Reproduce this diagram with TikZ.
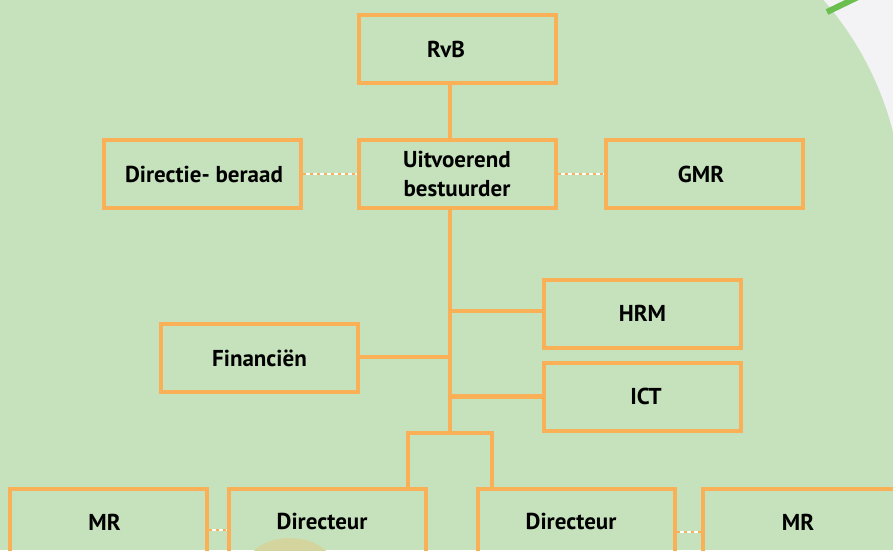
\documentclass[tikz,border=0pt]{standalone}
\usepackage{fontspec}
\setmainfont{PT Sans}
\definecolor{bggreen}{HTML}{C6E2BC}
\definecolor{bggray}{HTML}{F3F3F6}
\definecolor{boxor}{HTML}{F9B057}
\definecolor{strokegreen}{HTML}{6BBF4E}
\definecolor{blobtan}{HTML}{D3D49E}
\begin{document}
\begin{tikzpicture}[x=1pt,y=-1pt,
  box/.style={draw=boxor, line width=4pt, minimum width=197pt, minimum height=68pt,
    inner sep=0pt, align=center, text=black,
    font=\bfseries\fontsize{23}{29}\selectfont},
  link/.style={draw=boxor, line width=4.8pt},
  dotlink/.style={draw=white, line width=2.5pt,
    postaction={draw=boxor, dash pattern=on 3pt off 4pt}}]
\useasboundingbox (0,0) rectangle (893,550);
% background
\fill[bggreen] (0,0) rectangle (893,550);
\fill[bggray] (740,0) rectangle (893,160);
\fill[bggreen] (581,212) circle[radius=322];
\draw[strokegreen, line width=6pt] (827,12) -- (860,-4);
\fill[blobtan] (290,568) ellipse[x radius=44, y radius=30];
% boxes
\node[box] (rvb) at (457,49) {\raisebox{-3pt}{\hspace*{-22pt}RvB}};
\node[box] (db) at (202.5,174) {\hspace*{3pt}Directie- beraad};
\node[box] (ub) at (457,174) {Uitvoerend\\bestuurder};
\node[box] (gmr) at (704.5,174) {\raisebox{-3pt}{\hspace*{-7pt}GMR}};
\node[box] (hrm) at (642.5,313.5) {HRM};
\node[box] (fin) at (259.5,358) {Financiën};
\node[box] (ict) at (642.5,396.5) {\hspace*{7pt}ICT};
\node[box] (mrl) at (108,522.5) {\hspace*{-7pt}MR};
\node[box] (dl) at (327.5,522.5) {\raisebox{2pt}{\hspace*{-11pt}Directeur}};
\node[box] (dr) at (576.5,522.5) {\raisebox{2pt}{\hspace*{-11pt}Directeur}};
\node[box] (mrr) at (801.5,522.5) {\hspace*{-7pt}MR};
% helper coordinates
\coordinate (tx) at (450,0);
\coordinate (brk) at (450,433);
\coordinate (bl) at (408,433);
\coordinate (br) at (492,433);
\coordinate (lyl) at (0,530);
\coordinate (lyr) at (0,532);
% connectors
\draw[link] (rvb.south -| tx) -- (ub.north -| tx);
\draw[link] (ub.south -| tx) -- (brk);
\draw[link] (tx |- 0,311) -- (hrm.west |- 0,311);
\draw[link] (fin.east |- 0,357) -- (tx |- 0,357);
\draw[link] (tx |- ict.west) -- (ict.west);
\draw[link] (dl.north -| bl) -- (bl) -- (br) -- (dr.north -| br);
\draw[dotlink] (db.east) -- (ub.west);
\draw[dotlink] (ub.east) -- (gmr.west);
\draw[dotlink] (mrl.east |- lyl) -- (dl.west |- lyl);
\draw[dotlink] (dr.east |- lyr) -- (mrr.west |- lyr);
\end{tikzpicture}
\end{document}
